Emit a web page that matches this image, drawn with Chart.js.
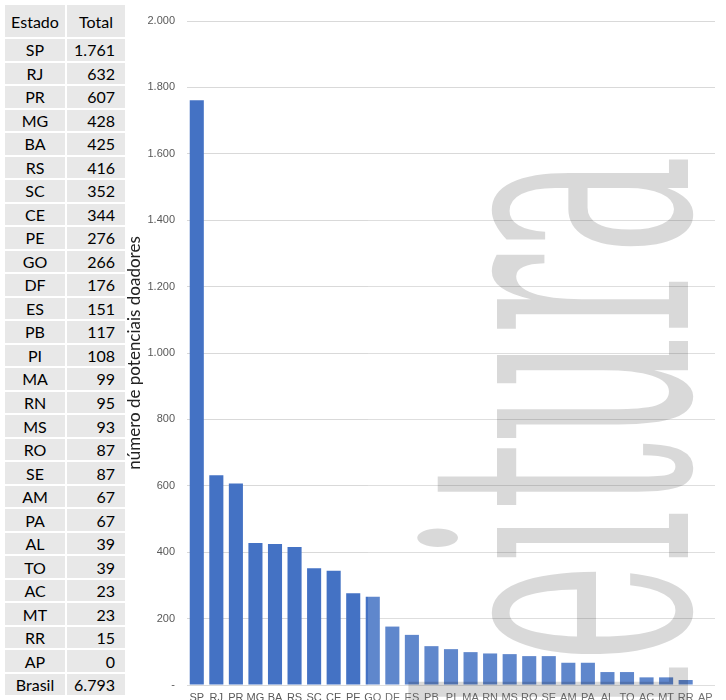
<!DOCTYPE html>
<html>
<head>
<meta charset="utf-8">
<script src="https://cdn.jsdelivr.net/npm/chart.js@4"></script>
<style>
  html, body { margin: 0; padding: 0; background: #fff; overflow: hidden; width: 726px; height: 700px; }
  #tabela {
    position: absolute; left: 5px; top: 5px;
    display: grid;
    grid-template-columns: 60px 58px;
    grid-template-rows: 32px repeat(28, 21.52px);
    gap: 2px;
    font-family: Lato, "Noto Sans", sans-serif; font-size: 16px; color: #000;
  }
  #tabela div { background: #e8e8e8; display: flex; align-items: center; }
  #tabela .uf { justify-content: center; }
  #tabela .num { justify-content: flex-end; padding-right: 10px; }
  #tabela .head { justify-content: center; padding-right: 0; }
  #grafico { position: absolute; left: 126px; top: 0; }
  #tinta {
    position: absolute; left: 368px; top: 155px; width: 358px; height: 545px;
    background: rgba(255,255,255,0.15); pointer-events: none;
  }
  #marca {
    position: absolute; left: 377px; top: 716px;
    transform-origin: 0 0; transform: rotate(-90deg) scaleX(0.455);
    font-family: "DejaVu Serif", serif; font-size: 368px; line-height: 1;
    white-space: nowrap;
    color: rgba(0,0,0,0.15); pointer-events: none;
  }
</style>
</head>
<body>
<div id="tabela"></div>
<canvas id="grafico" width="600" height="710"></canvas>
<div id="tinta"></div>
<div id="marca">leitura</div>
<script>
// dados por estado
const estados = ['SP', 'RJ', 'PR', 'MG', 'BA', 'RS', 'SC', 'CE', 'PE', 'GO', 'DF', 'ES', 'PB', 'PI',
                 'MA', 'RN', 'MS', 'RO', 'SE', 'AM', 'PA', 'AL', 'TO', 'AC', 'MT', 'RR', 'AP'];
const totais = [1761, 632, 607, 428, 425, 416, 352, 344, 276, 266, 176, 151, 117, 108,
                99, 95, 93, 87, 87, 67, 67, 39, 39, 23, 23, 15, 0];
const totalBrasil = 6793;
const yTicks = [0, 200, 400, 600, 800, 1000, 1200, 1400, 1600, 1800, 2000];

// formato brasileiro (ponto como separador de milhar)
function formatNumber(v) {
    return String(v).replace(/\B(?=(\d{3})+(?!\d))/g, '.');
}

// monta a tabela da esquerda
function buildTable() {
    const tabela = document.getElementById('tabela');
    let html = '<div class="uf">Estado</div><div class="num head">Total</div>';
    estados.forEach((uf, i) => {
        html += `<div class="uf">${uf}</div><div class="num">${formatNumber(totais[i])}</div>`;
    });
    html += `<div class="uf">Brasil</div><div class="num">${formatNumber(totalBrasil)}</div>`;
    tabela.innerHTML = html;
}

function initializeChart() {
    const ctx = document.getElementById('grafico');
    const tickFont = { family: '"Liberation Sans Narrow", "Liberation Sans", sans-serif', size: 11 };

    new Chart(ctx, {
        type: 'bar',
        data: {
            labels: estados,
            datasets: [{
                data: totais,
                backgroundColor: '#4472c4',
                barPercentage: 0.72,
                categoryPercentage: 1
            }]
        },
        options: {
            responsive: false,
            animation: false,
            devicePixelRatio: 1,
            layout: { padding: { left: 0, right: 11, top: 21, bottom: 0 } },
            plugins: { legend: { display: false }, tooltip: { enabled: false } },
            scales: {
                x: {
                    grid: { display: false, drawTicks: false },
                    border: { display: false },
                    ticks: { color: '#595959', font: tickFont, maxRotation: 0, autoSkip: false, padding: 6 },
                    afterFit: scale => { scale.height = 25; }
                },
                y: {
                    min: 0,
                    max: 2000,
                    afterBuildTicks: scale => { scale.ticks = yTicks.map(v => ({ value: v })); },
                    grid: { color: '#d9d9d9', drawTicks: false },
                    border: { display: false },
                    ticks: {
                        color: '#595959',
                        font: tickFont,
                        padding: 12,
                        callback: v => v === 0 ? '-' : formatNumber(v)
                    },
                    title: {
                        display: true,
                        text: 'número de potenciais doadores',
                        color: '#222',
                        font: { family: 'Lato, "Noto Sans", sans-serif', size: 17 },
                        padding: { top: -2, bottom: 0 }
                    },
                    afterFit: scale => { scale.width = 61; }
                }
            }
        }
    });
}

buildTable();
initializeChart();
</script>
</body>
</html>
